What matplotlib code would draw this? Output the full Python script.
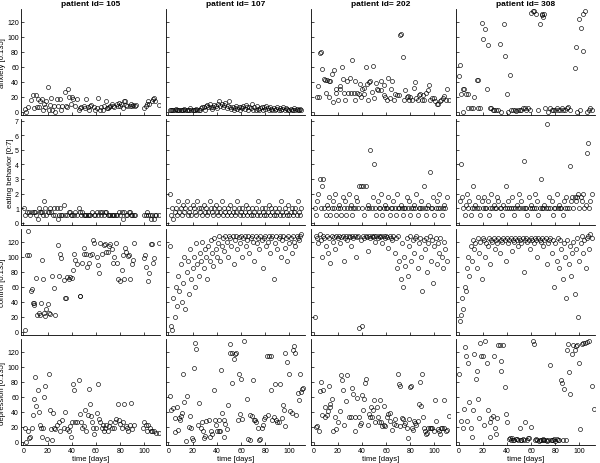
import matplotlib
matplotlib.use("Agg")
import matplotlib.pyplot as plt

plt.rcParams['font.family'] = ['Liberation Sans', 'DejaVu Sans']

patients = ["105", "107", "202", "308"]
measures = ["anxiety [0:135]", "eating behavior [0:7]", "control [0:135]", "depression [0:135]"]

daily_days = [1, 2, 3, 4, 5, 6, 7, 8, 9, 10, 11, 12, 13, 14, 15, 16, 17, 18, 19, 20,
              21, 22, 23, 24, 25, 26, 27, 28, 29, 30, 31, 32, 33, 34, 35, 36, 37, 38, 39, 40,
              41, 42, 43, 44, 45, 46, 47, 48, 49, 50, 51, 52, 53, 54, 55, 56, 57, 58, 59, 60,
              61, 62, 63, 64, 65, 66, 67, 68, 69, 70, 71, 72, 73, 74, 75, 76, 77, 78, 79, 80,
              81, 82, 83, 84, 85, 86, 87, 88, 89, 90, 91, 92, 93, 94, 95, 96, 97, 98, 99, 100,
              101, 102, 103, 104, 105, 106, 107, 108, 109, 110]

# ---- anxiety ----
anx105_d = [1, 2, 4, 6, 8, 9, 10, 11, 12, 13, 14, 15, 16, 17, 18, 19, 20, 21, 22, 23,
            24, 25, 26, 28, 29, 30, 31, 32, 34, 35, 36, 37, 38, 39, 40, 41, 43, 44, 46, 47,
            48, 50, 51, 52, 53, 54, 55, 56, 58, 59, 61, 62, 63, 64, 66, 67, 68, 69, 70, 71,
            72, 73, 74, 75, 77, 78, 79, 80, 81, 82, 83, 84, 85, 86, 88, 89, 90, 91, 92, 93,
            100, 101, 102, 103, 104, 106, 107, 108, 109, 112]
anx105_v = [4, 0, 6, 16, 23, 5, 23, 6, 17, 7, 14, 17, 3, 11, 6, 14, 33, 3, 9, 19,
            3, 8, 0, 17, 8, 17, 3, 8, 27, 8, 7, 31, 20, 11, 20, 17, 8, 17, 3, 5,
            6, 8, 5, 17, 6, 3, 8, 9, 6, 3, 5, 19, 3, 6, 3, 8, 14, 5, 5, 6,
            8, 11, 8, 6, 10, 8, 12, 8, 11, 5, 14, 14, 9, 8, 8, 11, 8, 9, 8, 9,
            5, 8, 10, 14, 11, 14, 17, 18, 14, 9]

anx107_v = [3, 2, 3, 2, 3, 4, 2, 3, 2, 3, 2, 3, 4, 2, 3, 2, 3, 5, 3, 2,
            3, 2, 4, 3, 2, 3, 5, 7, 6, 3, 8, 9, 6, 10, 7, 4, 6, 9, 8, 5,
            10, 14, 8, 11, 6, 9, 12, 5, 8, 15, 7, 4, 6, 3, 5, 8, 4, 6, 3, 7,
            5, 8, 4, 9, 6, 3, 7, 5, 10, 2, 6, 3, 8, 4, 2, 5, 7, 3, 6, 4,
            8, 5, 3, 6, 4, 2, 5, 3, 4, 6, 3, 5, 2, 4, 6, 3, 5, 4, 2, 3,
            4, 2, 3, 5, 3, 4, 2, 3, 4, 2]

anx202_d = [2.5, 4.4, 3.6, 5.2, 6.3, 7.2, 8.5, 9.9, 11.3, 12.7, 10.2, 12.7, 14, 15.4, 16.3, 16.8, 18.2, 19, 20.1, 21.8,
            22.3, 23.4, 24, 25, 25.9, 27.3, 28.4, 30, 30.6, 32, 33.3, 33.9, 34.7, 36, 37.5, 38.3, 39.4, 40.2, 41.6, 42,
            43.3, 44.4, 45.2, 46, 47.1, 48, 49, 50.4, 51.5, 52.6, 53.7, 55.4, 56.2, 58.1, 58.7, 59.5, 60.9, 62, 63.1, 64.2,
            64.8, 66.4, 67.8, 69.2, 70.5, 71.9, 72.7, 73.8, 74.6, 76, 76.9, 78, 79.1, 80.2, 81.5, 82.9, 83.7, 85.1, 86.2, 87.3,
            88.4, 89.5, 90.6, 91.7, 93.4, 94.5, 95.6, 96.7, 98.1, 99.5, 100.6, 102.2, 103.3, 104.4, 105.5, 107.2, 108.3, 109.4, 110.5, 111.8]
anx202_v = [20, 20, 34, 78, 80, 57, 44, 42, 42, 41, 25, 20, 41, 51, 13, 56, 31, 25, 16, 31,
            34, 60, 44, 25, 16, 41, 25, 45, 25, 69, 25, 41, 16, 25, 24, 37, 20, 31, 32, 24,
            60, 37, 16, 40, 41, 26, 61, 19, 38, 30, 29, 41, 29, 36, 23, 20, 16, 45, 19, 30,
            41, 16, 24, 22, 22, 102, 104, 73, 16, 29, 20, 21, 16, 20, 16, 32, 40, 19, 16, 22,
            24, 16, 23, 16, 25, 29, 36, 16, 19, 19, 15, 11, 11, 15, 16, 18, 21, 16, 30, 16]

anx308_d = [0.6, 1.4, 2, 3.3, 3.3, 4.7, 6.1, 7.5, 8, 10.3, 11.7, 13.1, 15.3, 15.8, 16.4, 18, 19.2, 20.3, 22, 23.6,
            24.2, 25.6, 26.9, 28.3, 29.7, 31.1, 32.5, 33.9, 35.3, 37.5, 38.6, 39.7, 40.8, 42.2, 43.6, 45, 46.4, 47.8, 49.2, 50.6,
            51.9, 53.3, 54.7, 56.1, 57.5, 58.9, 60.3, 61.7, 62.5, 64.4, 65.3, 67.2, 68.6, 69.2, 70, 70.8, 71.4, 74.2, 75.6, 76.9,
            78.3, 79.7, 81.1, 82.5, 83.9, 85.3, 86.7, 88.1, 89.4, 90.8, 92.2, 96.4, 97.5, 97.8, 99.2, 100.6, 101.4, 102.5, 103.3, 104.2,
            106.1, 107.5, 108.9, 110.3]
anx308_v = [48, 62, 24, 30, 0, 30, 24, 5, 24, 5, 5, 20, 43, 5, 42, 5, 118, 97, 110, 30,
            89, 5, 5, 3, 3, 3, 3, 90, 0, 117, 75, 24, 0, 49, 2, 2, 2, 1, 3, 2,
            3, 5, 5, 2, 5, 2, 132, 134, 135, 131, 2, 117, 131, 129, 127, 131, 5, 0, 5, 2,
            3, 2, 5, 3, 2, 5, 2, 3, 5, 7, 2, 58, 86, 0, 124, 2, 112, 81, 130, 134,
            0, 3, 5, 2]

# ---- eating behavior ----
eat105_d = [0.8, 1.7, 3, 4.4, 5.8, 7.2, 8.5, 9.9, 10.8, 11.9, 12.7, 13.5, 14.6, 15.4, 16.3, 17.4, 18.2, 19, 20.1, 20.9,
            22.3, 23.1, 24.5, 25.6, 26.5, 27.8, 28.4, 29.2, 30, 31.1, 32.2, 33.3, 34.7, 36.1, 37.5, 38.3, 39.4, 40.2, 41.6, 43,
            44.4, 45.7, 46.6, 47.7, 48.5, 49.9, 51.2, 52.1, 53.2, 54.3, 55.4, 56.8, 58.1, 59.5, 60.9, 62, 63.1, 64.2, 65.3, 66.4,
            67.5, 68.6, 69.7, 70.8, 71.9, 73, 74.1, 75.2, 76.3, 77.4, 78.8, 80.2, 81.3, 82.4, 83.5, 84.6, 85.7, 87.1, 87.9, 89,
            90.1, 91.2, 92.6, 100, 101.1, 102.2, 103.3, 104.4, 105.5, 106.6, 107.7, 108.8, 109.9, 111.9]
eat105_v = [1, 0.5, 0.75, 0.75, 0.5, 0.75, 0.75, 0.75, 0.5, 0.25, 1, 0.75, 0.75, 0.75, 0.5, 1.5, 1, 0.5, 0.75, 0.75,
            1, 0.75, 0.5, 1, 0.5, 1, 0.25, 0.5, 1, 0.5, 0.5, 1.25, 0.5, 0.5, 0.75, 0.75, 0.5, 0.5, 0.5, 0.75,
            0.5, 1, 0.75, 0.5, 0.75, 0.5, 0.5, 0.5, 0.5, 0.5, 0.5, 0.75, 0.5, 0.5, 0.75, 0.5, 0.75, 0.5, 0.75, 0.5,
            0.75, 0.75, 0.5, 0.5, 0.5, 0.5, 0.5, 0.5, 0.5, 0.5, 0.75, 0.5, 0.75, 0.25, 0.75, 0.5, 0.5, 0.75, 0.75, 0.5,
            0.5, 0.5, 0.5, 0.5, 0.5, 0.75, 0.5, 0.5, 0.25, 0.5, 0.25, 0.5, 0.5, 0.5]

eat107_v = [2, 0.5, 1, 0.25, 0.75, 1, 0.5, 1.5, 0.75, 1, 0.5, 1.25, 0.75, 1, 1.5, 0.5, 0.75, 1, 0.5, 1.25,
            1, 0.75, 0.5, 1.5, 1, 0.75, 1, 0.5, 1.25, 0.75, 1, 0.5, 0.75, 1.5, 1, 0.75, 0.5, 1, 1.25, 0.75,
            0.5, 1, 0.75, 1.5, 0.5, 1, 0.75, 0.5, 1, 0.75, 1.25, 0.5, 0.75, 1, 0.5, 0.75, 1.5, 1, 0.5, 0.75,
            1, 0.5, 0.75, 1.25, 0.5, 1, 0.75, 0.5, 1, 0.5, 0.75, 1, 0.5, 1.5, 0.75, 0.5, 1, 0.75, 0.5, 1,
            0.5, 0.75, 1.25, 0.5, 1, 0.75, 0.5, 1, 0.5, 0.75, 1, 0.5, 1.5, 0.75, 0.5, 1, 0.75, 0.5, 1.25, 0.5,
            0.75, 1, 0.5, 0.75, 1, 0.5, 1.5, 0.75, 0.5, 1]

eat202_v = [1, 0.5, 1.5, 2, 3, 1, 2.5, 3, 1, 0.5, 1.25, 1, 1.75, 0.5, 1, 1.5, 1, 2, 0.5, 1,
            1.25, 1, 0.5, 1.75, 1, 1.5, 0.5, 1, 2, 1, 1.25, 0.5, 1, 1, 1.75, 1.5, 1, 2.5, 2.5, 1,
            2.5, 0.5, 2.5, 1, 1.25, 1, 5, 1, 1.75, 4, 1, 0.5, 1.5, 1, 1, 2, 0.5, 1, 1.25, 1,
            1, 1.75, 0.5, 1, 1, 1.5, 1, 0.5, 2, 1, 1, 1.25, 1, 0.5, 1, 1, 1.75, 1, 1.5, 0.5,
            1, 1, 1.25, 1, 2, 0.5, 1, 1, 1.5, 1, 2.5, 1, 0.5, 1, 1.25, 3.5, 1, 1, 1.75, 0.5,
            1, 1.5, 1, 2, 1, 0.5, 1, 1.25, 1, 1.75]

eat308_v = [1.5, 4, 1.75, 1, 0.5, 1.25, 2, 1, 1.5, 0.5, 1, 2.5, 1, 1.25, 1, 1.75, 1, 0.5, 1.5, 1,
            1.75, 1, 1, 1.5, 0.5, 1, 2, 1, 1.25, 1, 1, 1.75, 1.5, 1, 1, 0.5, 1.25, 1, 2.5, 1,
            1.5, 1, 1, 1.75, 1, 0.5, 1, 1.25, 1, 2, 1, 1.5, 1, 4.2, 1, 1, 0.5, 1.75, 1, 1.25,
            1, 1, 2, 1, 1.5, 0.5, 1, 3, 1, 1, 1.25, 1, 6.8, 1, 1.75, 1, 1.5, 0.5, 1, 1,
            2, 1, 1.25, 1, 1, 0.5, 1.5, 1, 1.75, 1, 1, 3.9, 1.5, 1.75, 1, 1.75, 1.5, 1.75, 2, 1,
            1.75, 1.5, 2, 1, 1.25, 4.8, 5.5, 1, 1.5, 2]

# ---- control ----
ctl105_d = [1.7, 3.6, 2.6, 4.7, 6.3, 7.2, 8, 8.5, 9.1, 10.2, 11.3, 12.7, 13.5, 14.6, 15.4, 16.3, 17.4, 18.2, 19, 20.1,
            21, 21.8, 23.7, 25.1, 26.5, 28.4, 29.2, 30.6, 31.4, 33.3, 34.7, 35, 36.1, 37.5, 38.9, 40, 41.1, 42.2, 43, 44.4,
            46.6, 47.1, 48.5, 49.9, 50.4, 52, 52.6, 54, 55.4, 56.8, 57.6, 58.7, 61, 61.7, 62.5, 63.6, 65, 66.4, 67.8, 68.6,
            69.7, 70.5, 71.9, 73, 74.1, 75.2, 76.3, 77.4, 78.5, 79.6, 81.6, 82.4, 83, 84, 85.1, 86.2, 87.3, 88.4, 89.5, 90.6,
            91.7, 99.5, 100.8, 101.7, 102.8, 103.9, 105.5, 106.6, 107.2, 108.3, 111.9]
ctl105_v = [3, 135, 103, 102, 55, 57, 38, 36, 38, 72, 22, 25, 22, 39, 96, 71, 25, 21, 30, 37,
            25, 24, 75, 58, 22, 116, 74, 104, 98, 69, 45, 45, 73, 70, 73, 72, 83, 104, 96, 91,
            48, 48, 92, 104, 112, 104, 87, 92, 102, 104, 123, 119, 100, 89, 78, 119, 104, 116, 117, 107,
            107, 114, 117, 110, 92, 100, 119, 92, 71, 68, 82, 102, 71, 112, 107, 101, 102, 71, 91, 96,
            119, 98, 102, 87, 68, 78, 117, 117, 92, 99, 118]

ctl107_v = [115, 8, 3, 45, 20, 60, 35, 75, 55, 90, 40, 65, 100, 30, 80, 95, 50, 110, 70, 85,
            100, 60, 118, 90, 75, 105, 95, 120, 85, 110, 100, 70, 115, 95, 122, 105, 88, 125, 110, 100,
            118, 128, 95, 115, 125, 108, 128, 120, 100, 128, 125, 115, 128, 90, 122, 128, 110, 126, 118, 128,
            100, 125, 128, 115, 122, 128, 105, 125, 128, 120, 95, 128, 118, 125, 110, 128, 122, 85, 125, 128,
            115, 120, 128, 105, 125, 128, 70, 118, 128, 110, 125, 128, 100, 122, 128, 112, 125, 95, 128, 118,
            125, 105, 128, 120, 115, 128, 125, 122, 128, 130]

ctl202_v = [20, 128, 125, 118, 130, 122, 100, 128, 125, 115, 128, 105, 125, 92, 128, 120, 126, 110, 128, 125,
            128, 118, 126, 128, 95, 125, 128, 122, 128, 126, 115, 128, 125, 128, 100, 126, 128, 5, 122, 8,
            128, 125, 128, 126, 108, 128, 125, 128, 126, 128, 120, 128, 125, 128, 126, 128, 118, 128, 125, 128,
            126, 112, 128, 125, 122, 128, 105, 125, 85, 128, 95, 70, 118, 60, 100, 88, 125, 75, 115, 128,
            95, 122, 105, 125, 128, 85, 118, 125, 100, 55, 122, 110, 125, 80, 118, 128, 95, 122, 65, 115,
            125, 90, 118, 105, 125, 100, 85, 120, 110, 95]

ctl308_v = [15, 22, 45, 30, 60, 55, 85, 100, 75, 115, 95, 122, 110, 118, 85, 125, 105, 120, 70, 125,
            122, 100, 118, 115, 125, 90, 122, 120, 125, 110, 122, 118, 125, 105, 122, 120, 125, 122, 95, 125,
            118, 122, 125, 108, 122, 120, 125, 122, 115, 125, 122, 118, 125, 80, 122, 125, 120, 122, 110, 125,
            122, 118, 125, 122, 100, 125, 122, 120, 125, 115, 122, 125, 90, 118, 122, 125, 105, 122, 60, 118,
            95, 125, 85, 122, 110, 70, 118, 100, 45, 122, 90, 115, 75, 105, 120, 50, 110, 125, 20, 95,
            118, 128, 105, 122, 85, 125, 128, 110, 130, 125]

# ---- depression ----
dep105_d = [1.7, 2.5, 3.6, 4.7, 5.8, 7.2, 8, 8.5, 9.4, 10.8, 11.9, 12.7, 13.5, 14.6, 15.4, 16.3, 17.4, 18.2, 19.6, 21,
            21.8, 22.9, 23.7, 24.5, 25.6, 26.5, 27.8, 29.2, 30.6, 32, 33.3, 34.7, 36.1, 37.5, 38.3, 39.4, 40.2, 41.1, 42.2, 43,
            44.4, 45.7, 46.6, 47.7, 48.5, 49.9, 51.2, 52, 53.2, 54, 55.4, 56, 56.8, 57.6, 58.7, 59.8, 61, 61.5, 62.5, 63.6,
            64.8, 65.9, 66.4, 67.8, 68.6, 69.7, 70.5, 71.9, 73.3, 74.7, 75.8, 76.9, 78, 79.1, 80.2, 81.3, 82.4, 83.5, 84.6, 85.7,
            86.8, 87.9, 89, 90.1, 91.2, 99, 100, 101, 102.2, 103.3, 104.4, 105.5, 106.6, 107.7, 109.3, 111.9]
dep105_v = [18, 0, 15, 5, 7, 18, 36, 57, 87, 48, 69, 40, 23, 18, 7, 18, 60, 74, 4, 90,
            42, 17, 3, 39, 18, 17, 23, 27, 15, 29, 18, 40, 17, 15, 21, 7, 27, 77, 69, 26,
            26, 82, 37, 26, 18, 21, 43, 14, 36, 70, 51, 34, 26, 18, 11, 18, 39, 77, 30, 26,
            18, 23, 15, 18, 23, 15, 21, 27, 18, 18, 26, 30, 50, 29, 24, 18, 26, 50, 21, 18,
            14, 23, 52, 17, 23, 18, 26, 23, 15, 23, 18, 15, 15, 14, 12, 12]

dep107_d = [1.6, 2.2, 3.9, 5, 5, 7.2, 7.7, 8.8, 9.9, 10.5, 11.3, 12.1, 13.2, 14.3, 15.4, 17.1, 17.6, 18.7, 19.8, 20.4,
            21.5, 22, 23, 24.2, 25.1, 26.5, 27.8, 28.7, 29.8, 30.6, 31.4, 33.3, 34.2, 35.3, 36.4, 37.5, 38.3, 39.7, 40.2, 41.6,
            41.6, 43, 43.5, 44.4, 45.7, 46.3, 47.1, 48.5, 49, 50.7, 51.2, 52.6, 52.6, 54, 55.4, 56.2, 57.3, 58.1, 59.5, 60,
            60.9, 62.3, 65, 65.6, 67.2, 67.8, 69.2, 70, 71, 71.9, 72.7, 73.8, 74.7, 75.5, 77.4, 78.2, 79.3, 80.2, 81.6, 82.1,
            82.9, 84.8, 84.8, 85.9, 87, 88.4, 89.2, 89.8, 91.2, 92, 93.9, 94.8, 95.3, 96.2, 96.7, 98.1, 99.5, 100.8, 102.2, 103,
            104.1, 104.9, 105.7, 106.8, 107.7, 109, 109.6, 110.4, 111.2]
dep107_v = [61, 42, 45, 32, 13, 47, 16, 32, 29, 34, 39, 91, 53, 1, 61, 20, 34, 18, 5, 3,
            98, 132, 124, 22, 52, 18, 27, 15, 5, 8, 28, 29, 6, 15, 11, 69, 29, 23, 15, 29,
            15, 15, 96, 39, 6, 29, 24, 17, 49, 118, 130, 118, 78, 111, 117, 118, 29, 91, 37, 84,
            30, 134, 57, 4, 3, 36, 34, 83, 29, 29, 26, 19, 2, 4, 18, 23, 30, 33, 115, 36,
            115, 115, 69, 29, 33, 77, 29, 26, 26, 77, 32, 49, 42, 21, 118, 107, 91, 41, 39, 123,
            128, 118, 36, 65, 56, 91, 67, 70, 72]

dep202_d = [1.7, 3, 4.4, 5.2, 6.3, 7.2, 8, 9.1, 9.9, 10.8, 11.9, 12.7, 13.5, 14, 15.4, 16.3, 17.4, 19, 20.1, 21.8,
            22.9, 23.7, 24.5, 25.6, 26.7, 27.8, 29.2, 31.1, 31.9, 32.8, 33.9, 34.7, 36.1, 37.5, 38.8, 39.4, 40.2, 41, 42.1, 42.9,
            43.8, 44.9, 45.7, 46.5, 47.7, 48.5, 49.3, 50.4, 51.2, 52.6, 53.2, 54, 54.8, 55.9, 57, 58.1, 58.7, 59.5, 60.9, 62,
            63.1, 63.6, 65, 66.4, 67.2, 68.6, 69.7, 70.5, 71.3, 71.9, 73, 74.1, 75.2, 76, 76.9, 78, 78.8, 79.6, 80.7, 81.5,
            82.4, 83.5, 84.3, 85.1, 86.2, 87, 87.9, 89, 89.8, 90.6, 91.7, 92.6, 93.4, 94, 95, 96.1, 97, 98.1, 99.5, 100.8,
            101.7, 102.8, 103.6, 104.4, 105.5, 106.5, 107.5, 108.3, 109.5, 110.5, 111.7]
dep202_v = [20, 21, 15, 68, 80, 36, 69, 47, 33, 36, 41, 75, 51, 46, 57, 15, 33, 17, 27, 41,
            89, 83, 69, 23, 54, 89, 33, 33, 72, 64, 33, 15, 59, 33, 23, 25, 62, 42, 57, 78,
            84, 22, 37, 33, 47, 33, 42, 56, 27, 47, 33, 27, 56, 27, 21, 23, 48, 21, 33, 37,
            38, 28, 16, 24, 31, 23, 91, 77, 74, 21, 32, 30, 23, 25, 18, 5, 30, 73, 75, 18,
            16, 28, 25, 23, 28, 51, 80, 48, 91, 33, 18, 15, 10, 12, 18, 18, 19, 18, 15, 56,
            28, 17, 14, 10, 19, 19, 18, 56, 14, 16, 35]

dep308_d = [0.6, 2, 3.3, 4.2, 5.3, 6.1, 7, 8, 8.9, 10.3, 10.8, 11.7, 13.1, 14.4, 15.3, 16.4, 17.2, 18, 18.6, 20,
            21.4, 22, 23.6, 24.2, 25.6, 26.4, 27, 28.3, 29.2, 30.3, 31.1, 31.9, 33, 33.9, 34.7, 35.3, 36.7, 38, 39.4, 40.3,
            41.4, 43, 44.5, 46, 47.5, 49, 50.6, 52, 53.5, 55.3, 56.5, 58, 59.7, 61.7, 62.5, 63.6, 65, 66.5, 68, 69.5,
            71, 72.5, 74, 75.6, 77, 78.5, 80, 81.5, 83, 84.7, 85.8, 87.5, 88.6, 89.4, 90.3, 91.4, 92.2, 93.6, 94.9, 96.4,
            96.9, 97.8, 99.2, 100.6, 102, 103.3, 104.7, 106.1, 107.5, 110.3, 111.7,
            42.2, 45.2, 48.3, 51.4, 54.4, 57.3, 64.2, 67.1, 70.2, 73.1, 76.2, 79.3, 82.2, 86.5]
dep308_v = [91, 28, 18, 44, 127, 114, 28, 105, 53, 18, 6, 42, 117, 84, 95, 57, 32, 132, 115, 114,
            22, 135, 105, 42, 6, 27, 32, 34, 114, 18, 10, 32, 129, 129, 95, 108, 129, 73, 37, 26,
            4, 3, 5, 2, 4, 3, 18, 2, 4, 26, 3, 5, 20, 135, 130, 2, 3, 1, 2, 4,
            3, 2, 3, 102, 2, 3, 1, 4, 2, 82, 78, 71, 2, 122, 131, 93, 64, 117, 129, 123,
            128, 129, 105, 17, 131, 132, 132, 133, 135, 75, 44,
            5, 2, 4, 3, 2, 5, 4, 2, 3, 1, 2, 4, 3, 2]

data = [
    [(anx105_d, anx105_v), (daily_days, anx107_v), (anx202_d, anx202_v), (anx308_d, anx308_v)],
    [(eat105_d, eat105_v), (daily_days, eat107_v), (daily_days, eat202_v), (daily_days, eat308_v)],
    [(ctl105_d, ctl105_v), (daily_days, ctl107_v), (daily_days, ctl202_v), (daily_days, ctl308_v)],
    [(dep105_d, dep105_v), (dep107_d, dep107_v), (dep202_d, dep202_v), (dep308_d, dep308_v)],
]

fig, axes = plt.subplots(4, 4, figsize=(6.0, 4.64), dpi=100)
fig.subplots_adjust(left=0.035, right=0.992, top=0.978, bottom=0.039, wspace=0.043, hspace=0.04)

for r in range(4):
    for c in range(4):
        ax = axes[r, c]
        x, y = data[r][c]
        ax.plot(x, y, 'o', mfc='none', mec='black', ms=2.9, mew=0.45)
        ax.set_xlim(-2, 113)
        if r == 1:
            ax.set_ylim(-0.15, 7.1)
            ax.set_yticks(range(0, 8))
        else:
            ax.set_ylim(-4, 137)
            ax.set_yticks(range(0, 140, 20))
        ax.set_xticks(range(0, 120, 20))
        for s in ['top', 'right']:
            ax.spines[s].set_visible(False)
        for s in ['left', 'bottom']:
            ax.spines[s].set_linewidth(0.6)
        ax.tick_params(direction='in', length=2, width=0.5, labelsize=5, pad=1.5)
        if c != 0:
            ax.set_yticklabels([])
        else:
            ax.set_ylabel(measures[r], fontsize=5.5, labelpad=1)
        if r != 3:
            ax.set_xticklabels([])
        else:
            ax.set_xlabel("time [days]", fontsize=5.5, labelpad=1)
        if r == 0:
            ax.set_title("patient id= " + patients[c], fontsize=6, fontweight='bold', pad=3)

fig.savefig("out.png", dpi=100)
